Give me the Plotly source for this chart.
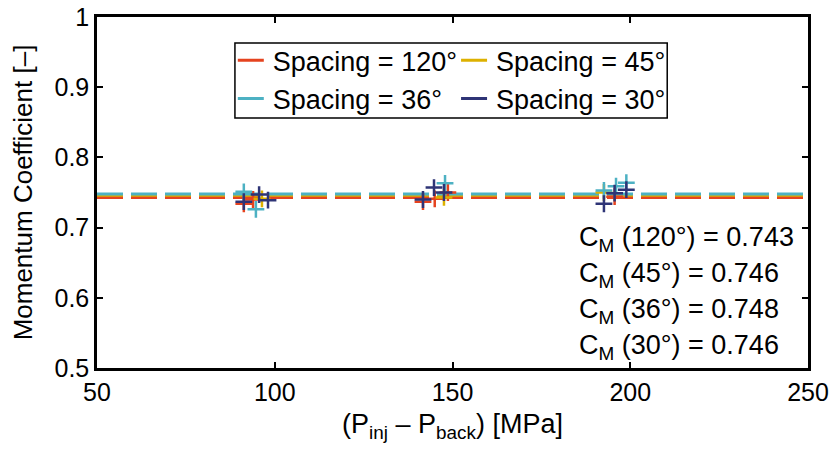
import plotly.graph_objects as go

# ---- data ----
spacing_labels = ["120°", "45°", "36°", "30°"]
cm_values = [0.743, 0.746, 0.748, 0.746]
colors = ["#E5431F", "#DDB100", "#4DB1C3", "#2E3476"]

x_red = [91.3, 93.9, 141.7, 145.0, 148.7, 195.6]
y_red = [0.734, 0.740, 0.737, 0.741, 0.750, 0.744]
x_yel = [96.4, 147.6, 192.6]
y_yel = [0.741, 0.743, 0.750]
x_cyan = [91.3, 94.7, 147.9, 192.6, 196.0, 198.9]
y_cyan = [0.751, 0.726, 0.763, 0.753, 0.759, 0.764]
x_navy = [91.3, 95.6, 98.1, 141.7, 144.8, 147.6, 192.6, 195.6, 198.9]
y_navy = [0.737, 0.747, 0.739, 0.740, 0.757, 0.750, 0.734, 0.749, 0.754]

marker_x = [x_red, x_yel, x_cyan, x_navy]
marker_y = [y_red, y_yel, y_cyan, y_navy]

x_range = [50, 250]
y_range = [0.5, 1.0]
x_ticks = [50, 100, 150, 200, 250]
y_ticks = [0.5, 0.6, 0.7, 0.8, 0.9, 1.0]
y_ticktext = ["0.5", "0.6", "0.7", "0.8", "0.9", "1"]

FONT = "Liberation Sans, Arial, Helvetica, sans-serif"

fig = go.Figure()

# mean lines (navy first so the others sit over it)
line_order = [3, 0, 1, 2]
legend_of = {0: "legend", 2: "legend", 1: "legend2", 3: "legend2"}
rank_of = {0: 1, 2: 2, 1: 1, 3: 2}
for i in line_order:
    fig.add_trace(go.Scatter(
        x=x_range, y=[cm_values[i], cm_values[i]],
        mode="lines",
        line=dict(color=colors[i], width=3, dash="26px,8px"),
        name="Spacing = " + spacing_labels[i],
        legend=legend_of[i], legendrank=rank_of[i],
        hoverinfo="skip",
    ))

for i in range(4):
    fig.add_trace(go.Scatter(
        x=marker_x[i], y=marker_y[i], mode="markers",
        marker=dict(symbol="cross-thin", size=12,
                    line=dict(color=colors[i], width=2.5)),
        showlegend=False,
    ))

# C_M annotations
for k in range(4):
    fig.add_annotation(
        x=185, y=0.684 - k * 0.0514, xref="x", yref="y",
        text="C<sub>M</sub> (%s) = %.3f" % (spacing_labels[k], cm_values[k]),
        showarrow=False, xanchor="left", yanchor="middle",
        font=dict(family=FONT, size=27, color="black"),
    )

# legend box
fig.add_shape(type="rect", xref="paper", yref="paper",
              x0=0.194, x1=0.802, y0=0.712, y1=0.926,
              line=dict(color="black", width=1.5), fillcolor="white",
              layer="below")

legend_common = dict(
    bgcolor="rgba(0,0,0,0)", borderwidth=0,
    font=dict(family=FONT, size=27, color="black"),
    xanchor="left", yanchor="top", orientation="v",
    tracegroupgap=0,
)
fig.update_layout(
    legend=dict(x=0.191, y=0.945, **legend_common),
    legend2=dict(x=0.505, y=0.945, **legend_common),
)

axis_common = dict(
    showline=True, linecolor="black", linewidth=2.5, mirror="ticks",
    ticks="inside", ticklen=6, tickwidth=2, tickcolor="black",
    showgrid=False, zeroline=False, automargin=False,
    tickfont=dict(family=FONT, size=25, color="black"),
)
fig.update_xaxes(range=x_range, tickvals=x_ticks, **axis_common,
                 title=dict(text="(P<sub>inj</sub> – P<sub>back</sub>) [MPa]",
                            font=dict(family=FONT, size=27, color="black"),
                            standoff=10))
fig.update_yaxes(range=y_range, tickvals=y_ticks, ticktext=y_ticktext,
                 **axis_common,
                 title=dict(text="Momentum Coefficient [–]",
                            font=dict(family=FONT, size=26, color="black"),
                            standoff=15))

fig.update_layout(
    width=832, height=450,
    margin=dict(l=97, r=24, t=17, b=82),
    paper_bgcolor="white", plot_bgcolor="white",
    font=dict(family=FONT, size=25, color="black"),
)

fig.write_html("out.html")
